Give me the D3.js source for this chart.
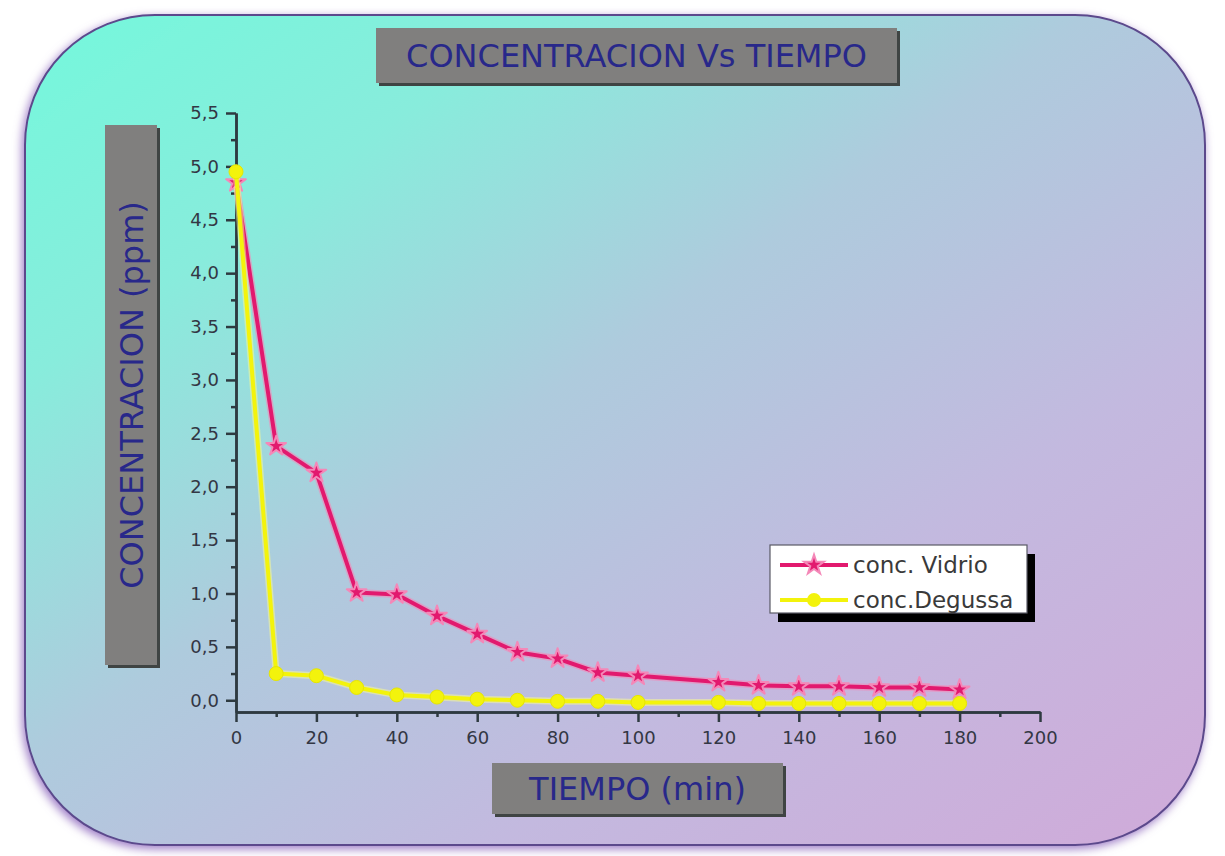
<!DOCTYPE html>
<html>
<head>
<meta charset="utf-8">
<script src="https://cdn.jsdelivr.net/npm/d3@7"></script>
<style>
  html, body { margin: 0; padding: 0; background: #ffffff; }
  svg { display: block; }
</style>
</head>
<body>
<svg id="chart" width="1225" height="856"></svg>
<script>
// Sampling times (min) and measured concentrations (ppm)
const tiempo   = [0, 10, 20, 30, 40, 50, 60, 70, 80, 90, 100, 120, 130, 140, 150, 160, 170, 180];
const vidrio   = [4.85, 2.38, 2.13, 1.01, 0.99, 0.79, 0.62, 0.45, 0.39, 0.26, 0.23, 0.17, 0.14, 0.13, 0.13, 0.12, 0.12, 0.10];
const degussa  = [4.95, 0.25, 0.23, 0.12, 0.05, 0.03, 0.01, 0.00, -0.01, -0.01, -0.02, -0.02, -0.03, -0.03, -0.03, -0.03, -0.03, -0.03];

const seriesNames = ["conc. Vidrio", "conc.Degussa"];
const xTicks      = [0, 20, 40, 60, 80, 100, 120, 140, 160, 180, 200];
const xMinorTicks = [10, 30, 50, 70, 90, 110, 130, 150, 170, 190];
const yTicks      = [0, 0.5, 1.0, 1.5, 2.0, 2.5, 3.0, 3.5, 4.0, 4.5, 5.0, 5.5];
const yMinorTicks = [0.25, 0.75, 1.25, 1.75, 2.25, 2.75, 3.25, 3.75, 4.25, 4.75, 5.25];

const titulo  = "CONCENTRACION Vs TIEMPO";
const xTitulo = "TIEMPO (min)";
const yTitulo = "CONCENTRACION (ppm)";

const svg = d3.select("#chart");
const defs = svg.append("defs");

// Panel background: aqua in the upper left fading to lilac in the lower right
const grad = defs.append("linearGradient")
  .attr("id", "bgGrad").attr("x1", 0).attr("y1", 0).attr("x2", 1).attr("y2", 1);
[[0, "#74f8dc"], [0.22, "#88ecdc"], [0.45, "#aecbdd"], [0.7, "#c3b9df"], [1, "#d0aad9"]]
  .forEach(([o, c]) => grad.append("stop").attr("offset", o).attr("stop-color", c));

// Soft purple glow around the rounded panel
const glow = defs.append("filter").attr("id", "glow")
  .attr("x", "-5%").attr("y", "-5%").attr("width", "110%").attr("height", "110%");
glow.append("feGaussianBlur").attr("in", "SourceAlpha").attr("stdDeviation", 5).attr("result", "b");
glow.append("feOffset").attr("in", "b").attr("dx", -2).attr("dy", 3).attr("result", "o");
glow.append("feFlood").attr("flood-color", "#9d7cc6").attr("result", "f");
glow.append("feComposite").attr("in", "f").attr("in2", "o").attr("operator", "in").attr("result", "s");
const gm = glow.append("feMerge");
gm.append("feMergeNode").attr("in", "s");
gm.append("feMergeNode").attr("in", "SourceGraphic");

svg.append("rect")
  .attr("x", 25).attr("y", 15).attr("width", 1180).attr("height", 830)
  .attr("rx", 130).attr("ry", 130)
  .attr("fill", "url(#bgGrad)")
  .attr("stroke", "#5b4a8c").attr("stroke-width", 2)
  .attr("filter", "url(#glow)");

// Scales
const x = d3.scaleLinear().domain([0, 200]).range([236, 1040]);
const y = d3.scaleLinear().domain([-0.11, 5.5]).range([712, 113]);

const locale = d3.formatLocale({ decimal: ",", thousands: ".", grouping: [3], currency: ["", ""] });
const fmt1 = locale.format(".1f");

const axisColor = "#2e3a40";
const labelColor = "#333744";

function styleAxis(g) {
  g.select(".domain").attr("stroke", axisColor).attr("stroke-width", 2.5);
  g.selectAll(".tick line").attr("stroke", axisColor).attr("stroke-width", 2.5);
  g.selectAll(".tick text")
    .attr("fill", labelColor)
    .style("font-family", "'DejaVu Sans', sans-serif")
    .style("font-size", "18px");
}

// Minor ticks
svg.append("g").attr("transform", `translate(${x(0)},0)`)
  .call(d3.axisLeft(y).tickValues(yMinorTicks).tickSize(5).tickSizeOuter(0).tickFormat(""))
  .call(styleAxis);
svg.append("g").attr("transform", `translate(0,${y.range()[0]})`)
  .call(d3.axisBottom(x).tickValues(xMinorTicks).tickSize(5).tickSizeOuter(0).tickFormat(""))
  .call(styleAxis);

// Major ticks and labels
svg.append("g").attr("transform", `translate(${x(0)},0)`)
  .call(d3.axisLeft(y).tickValues(yTicks).tickSize(10).tickSizeOuter(0).tickPadding(7).tickFormat(fmt1))
  .call(styleAxis);
svg.append("g").attr("transform", `translate(0,${y.range()[0]})`)
  .call(d3.axisBottom(x).tickValues(xTicks).tickSize(10).tickSizeOuter(0).tickPadding(9).tickFormat(d3.format("d")))
  .call(styleAxis);

// Grey caption boxes with a dark drop edge
function captionBox(bx, by, bw, bh, text, rotate) {
  const g = svg.append("g");
  g.append("rect").attr("x", bx + 3).attr("y", by + 3).attr("width", bw).attr("height", bh).attr("fill", "#3f4443");
  g.append("rect").attr("x", bx).attr("y", by).attr("width", bw).attr("height", bh).attr("fill", "#807f7e");
  const cx = bx + bw / 2, cy = by + bh / 2;
  g.append("text")
    .attr("transform", rotate ? `translate(${cx + 1},${cy}) rotate(-90)` : `translate(${cx},${cy})`)
    .attr("text-anchor", "middle")
    .attr("dominant-baseline", "central")
    .attr("fill", "#28288a")
    .style("font-family", "'DejaVu Sans', sans-serif")
    .style("font-size", "32px")
    .text(text);
}
captionBox(376, 28, 521, 55, titulo, false);
captionBox(492, 763, 291, 51, xTitulo, false);
captionBox(105, 125, 52, 540, yTitulo, true);

// Series
const ptsV = tiempo.map((t, i) => [t, vidrio[i]]);
const ptsD = tiempo.map((t, i) => [t, degussa[i]]);
const line = d3.line().x(d => x(d[0])).y(d => y(d[1]));

const pink = "#e2196e", pinkEdge = "#f488b8";
const yellow = "#f3f30c", yellowEdge = "#fbfb90";

svg.append("path").datum(ptsV).attr("d", line)
  .attr("fill", "none").attr("stroke", pinkEdge).attr("stroke-width", 7).attr("stroke-opacity", 0.6)
  .attr("stroke-linejoin", "round");
svg.append("path").datum(ptsV).attr("d", line)
  .attr("fill", "none").attr("stroke", pink).attr("stroke-width", 4).attr("stroke-linejoin", "round");

const star = d3.symbol().type(d3.symbolStar).size(120);
svg.append("g").selectAll("path").data(ptsV).join("path")
  .attr("transform", d => `translate(${x(d[0])},${y(d[1])})`)
  .attr("d", star)
  .attr("fill", pink).attr("stroke", pinkEdge).attr("stroke-width", 2).attr("stroke-linejoin", "round");

svg.append("path").datum(ptsD).attr("d", line)
  .attr("fill", "none").attr("stroke", yellowEdge).attr("stroke-width", 7).attr("stroke-opacity", 0.5)
  .attr("stroke-linejoin", "round");
svg.append("path").datum(ptsD).attr("d", line)
  .attr("fill", "none").attr("stroke", yellow).attr("stroke-width", 4).attr("stroke-linejoin", "round");

svg.append("g").selectAll("circle").data(ptsD).join("circle")
  .attr("cx", d => x(d[0])).attr("cy", d => y(d[1])).attr("r", 7)
  .attr("fill", yellow).attr("stroke", "#e6e600").attr("stroke-width", 1);

// Legend
const lg = svg.append("g");
lg.append("rect").attr("x", 778).attr("y", 554).attr("width", 257).attr("height", 68).attr("fill", "#000");
lg.append("rect").attr("x", 770).attr("y", 545).attr("width", 257).attr("height", 68)
  .attr("fill", "#ffffff").attr("stroke", "#5a5a66").attr("stroke-width", 1.2);

const legendRows = [
  { name: seriesNames[0], color: pink, edge: pinkEdge, marker: "star", cy: 565 },
  { name: seriesNames[1], color: yellow, edge: yellowEdge, marker: "circle", cy: 600 }
];
legendRows.forEach(r => {
  lg.append("line").attr("x1", 780).attr("x2", 848).attr("y1", r.cy).attr("y2", r.cy)
    .attr("stroke", r.color).attr("stroke-width", 4);
  if (r.marker === "star") {
    lg.append("path").attr("transform", `translate(814,${r.cy})`).attr("d", star)
      .attr("fill", r.color).attr("stroke", r.edge).attr("stroke-width", 2);
  } else {
    lg.append("circle").attr("cx", 814).attr("cy", r.cy).attr("r", 7).attr("fill", r.color);
  }
  lg.append("text").attr("x", 853).attr("y", r.cy).attr("dominant-baseline", "central")
    .attr("fill", "#3a3a3a")
    .style("font-family", "'DejaVu Sans', sans-serif").style("font-size", "23px")
    .text(r.name);
});
</script>
</body>
</html>
